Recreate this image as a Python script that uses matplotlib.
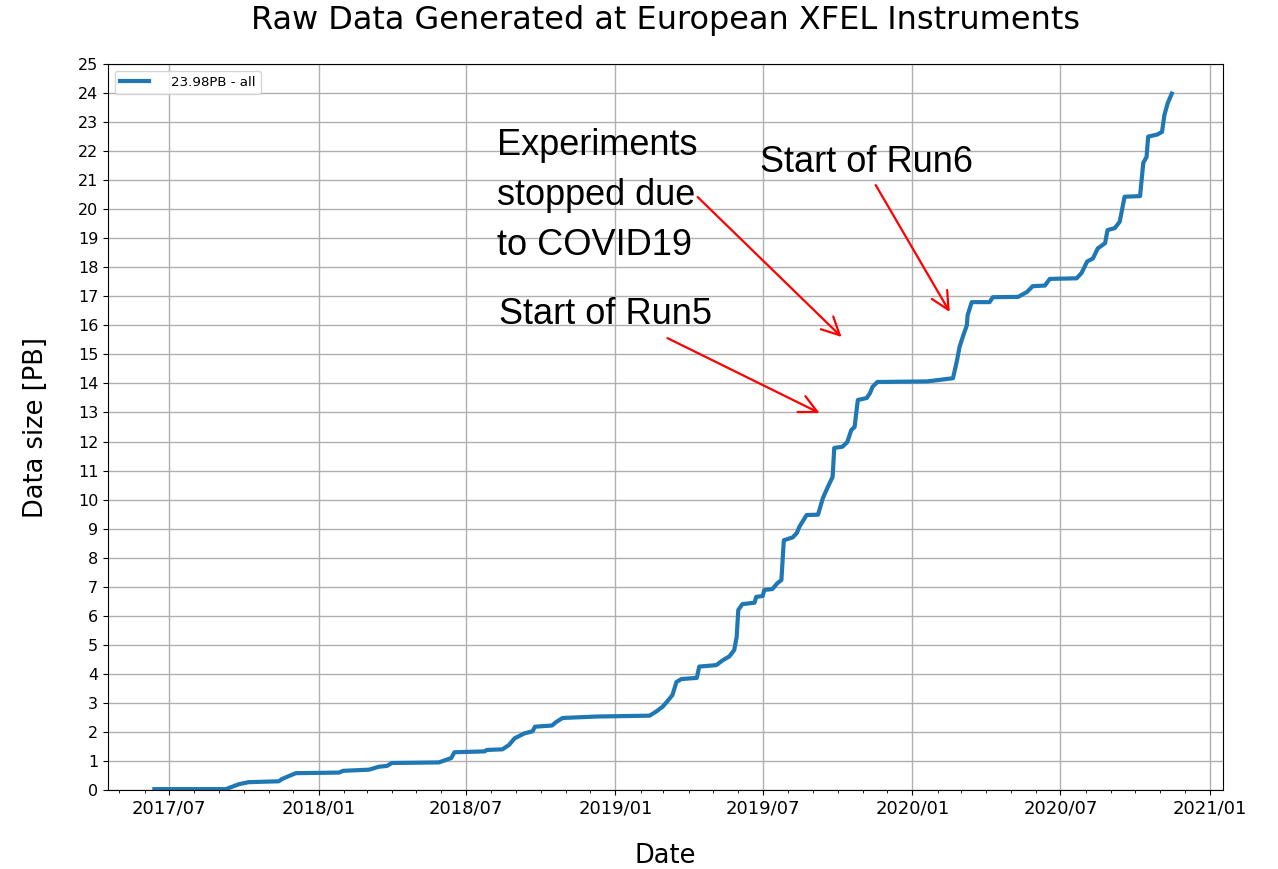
import pandas as pd
import matplotlib
matplotlib.use('Agg')
import matplotlib.pyplot as plt
import matplotlib.dates as mdates

# cumulative raw data volume
dates = ['2017-06-13', '2017-09-09', '2017-09-25', '2017-10-07', '2017-11-13',
         '2017-11-17', '2017-12-04', '2018-01-26', '2018-01-31', '2018-03-04',
         '2018-03-16', '2018-03-26', '2018-04-01', '2018-05-29', '2018-06-13',
         '2018-06-17', '2018-07-24', '2018-07-27', '2018-08-15', '2018-08-23',
         '2018-08-30', '2018-09-11', '2018-09-21', '2018-09-24', '2018-10-15',
         '2018-10-20', '2018-10-28', '2018-12-09', '2019-02-12', '2019-02-20',
         '2019-02-28', '2019-03-05', '2019-03-12', '2019-03-17', '2019-03-23',
         '2019-04-11', '2019-04-14', '2019-05-05', '2019-05-13', '2019-05-21',
         '2019-05-27', '2019-05-30', '2019-06-01', '2019-06-06', '2019-06-21',
         '2019-06-23', '2019-07-01', '2019-07-03', '2019-07-13', '2019-07-19',
         '2019-07-24', '2019-07-27', '2019-08-07', '2019-08-12', '2019-08-15',
         '2019-08-24', '2019-09-07', '2019-09-13', '2019-09-19', '2019-09-25',
         '2019-09-27', '2019-10-07', '2019-10-13', '2019-10-18', '2019-10-22',
         '2019-10-26', '2019-11-06', '2019-11-10', '2019-11-13', '2019-11-19',
         '2020-01-19', '2020-02-20', '2020-02-25', '2020-02-28', '2020-03-03',
         '2020-03-08', '2020-03-09', '2020-03-14', '2020-04-05', '2020-04-09',
         '2020-05-10', '2020-05-21', '2020-05-28', '2020-06-12', '2020-06-18',
         '2020-07-21', '2020-07-27', '2020-08-03', '2020-08-10', '2020-08-16',
         '2020-08-25', '2020-08-28', '2020-09-06', '2020-09-12', '2020-09-18',
         '2020-10-07', '2020-10-11', '2020-10-15', '2020-10-17', '2020-10-28',
         '2020-11-03', '2020-11-06', '2020-11-10', '2020-11-15']
size_pb = [0.03, 0.03, 0.2, 0.27, 0.3,
           0.38, 0.58, 0.6, 0.66, 0.7,
           0.8, 0.83, 0.93, 0.95, 1.1,
           1.3, 1.33, 1.38, 1.4, 1.55,
           1.78, 1.95, 2.02, 2.18, 2.22,
           2.34, 2.48, 2.53, 2.56, 2.7,
           2.87, 3.03, 3.27, 3.72, 3.82,
           3.86, 4.25, 4.3, 4.47, 4.6,
           4.82, 5.27, 6.2, 6.4, 6.45,
           6.65, 6.68, 6.89, 6.92, 7.12,
           7.23, 8.6, 8.7, 8.85, 9.06,
           9.47, 9.48, 10.05, 10.43, 10.78,
           11.78, 11.82, 11.98, 12.4, 12.5,
           13.43, 13.5, 13.67, 13.88, 14.05,
           14.07, 14.18, 14.8, 15.25, 15.6,
           16.0, 16.35, 16.8, 16.8, 16.97,
           16.98, 17.15, 17.35, 17.37, 17.6,
           17.62, 17.8, 18.2, 18.3, 18.65,
           18.83, 19.28, 19.35, 19.57, 20.43,
           20.45, 21.6, 21.8, 22.5, 22.57,
           22.66, 23.25, 23.65, 23.98]
series_label = '23.98PB - all'

# annotations: text lines, arrow tail (date, PB), arrow head (date, PB)
notes = [
    (['Start of Run5'], ('2019-03-06', 15.56), ('2019-09-09', 12.98)),
    (['Experiments', 'stopped due', 'to COVID19'], ('2019-04-12', 20.42), ('2019-10-06', 15.6)),
    (['Start of Run6'], ('2019-11-17', 20.83), ('2020-02-16', 16.46)),
]
note_text_px = [(499, 324), (497, 155), (760, 172)]  # left, baseline of first line

df = pd.DataFrame({'date': pd.to_datetime(dates), 'size': size_pb})

fig = plt.figure(figsize=(12.78, 8.69), dpi=100)
ax = fig.add_axes([108 / 1278, 1 - 790 / 869, 1115 / 1278, 726 / 869])

ax.plot(df['date'], df['size'], color='#1f77b4', lw=3, label=series_label)

ax.set_xlim(pd.Timestamp('2017-04-17'), pd.Timestamp('2021-01-17'))
ax.set_ylim(0, 25)
ax.set_yticks(range(0, 26))
ax.xaxis.set_major_locator(mdates.MonthLocator(bymonth=[1, 7]))
ax.xaxis.set_minor_locator(mdates.MonthLocator())
ax.xaxis.set_major_formatter(mdates.DateFormatter('%Y/%m'))
ax.tick_params(axis='x', labelsize=13)
ax.tick_params(axis='y', labelsize=11.5)
ax.grid(True, color='#b0b0b0', lw=1)

ax.set_title('Raw Data Generated at European XFEL Instruments', fontsize=23, pad=25)
ax.set_xlabel('Date', fontsize=18.5, labelpad=18)
ax.set_ylabel('Data size [PB]', fontsize=18.5, labelpad=21)
ax.legend(loc='upper left', fontsize=9.6, handletextpad=1.6, handlelength=2.2)

for (lines, tail, head), (px, py) in zip(notes, note_text_px):
    for i, line in enumerate(lines):
        fig.text(px / 1278, 1 - (py + 50 * i) / 869, line, fontsize=26,
                 family='Liberation Sans', va='baseline', ha='left')
    ax.annotate('', xy=(pd.Timestamp(head[0]), head[1]),
                xytext=(pd.Timestamp(tail[0]), tail[1]),
                arrowprops=dict(arrowstyle='->', color='red', lw=1.6,
                                mutation_scale=32, shrinkA=0, shrinkB=0))

fig.savefig('out.png', dpi=100)
